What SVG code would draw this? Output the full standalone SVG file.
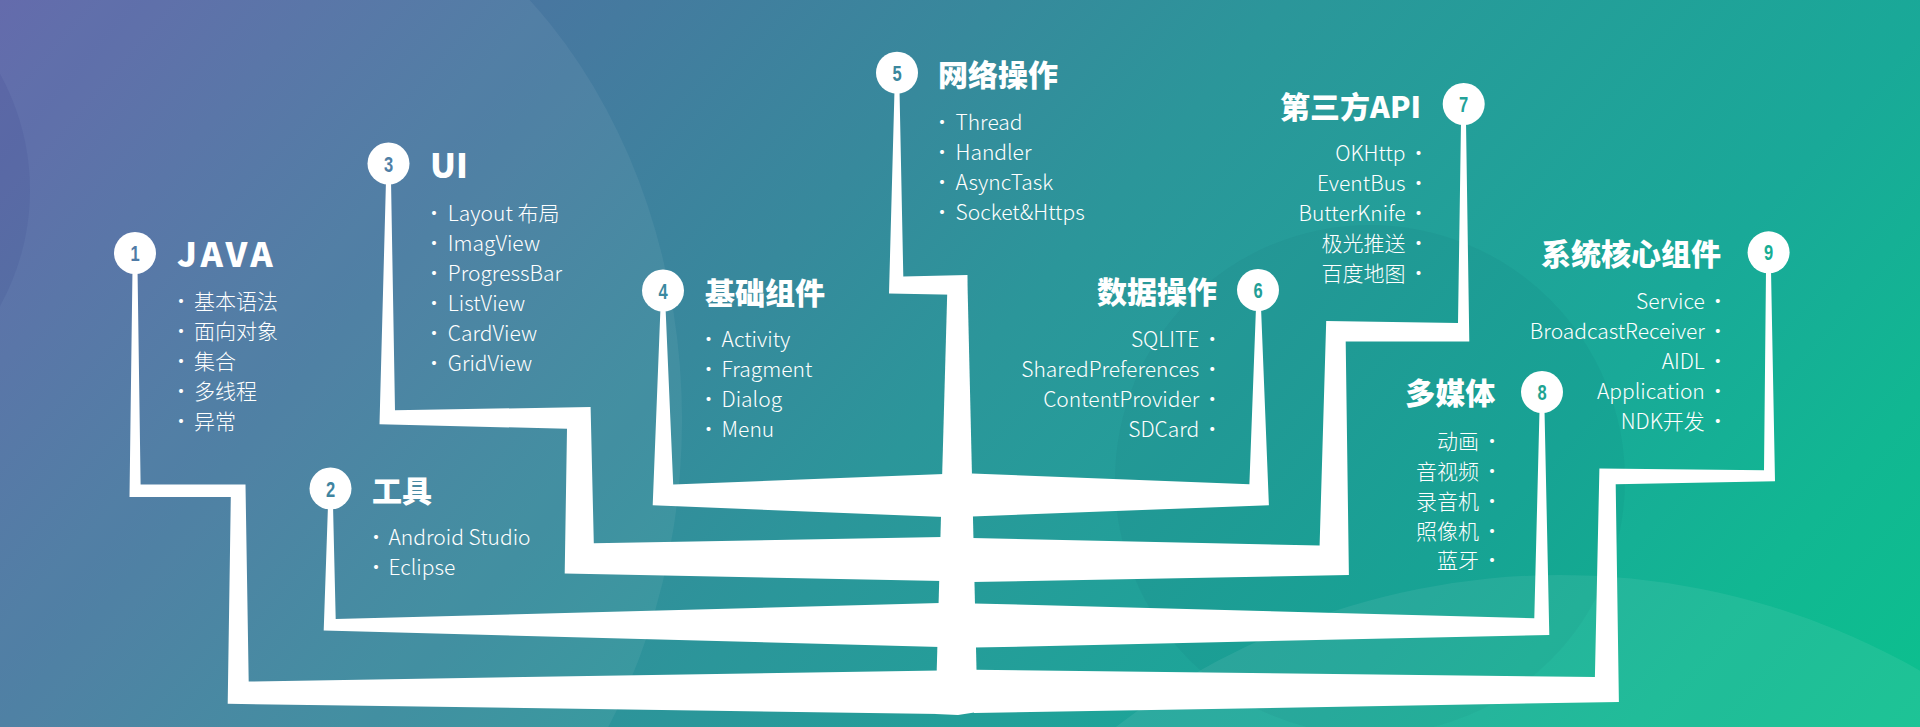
<svg xmlns="http://www.w3.org/2000/svg" width="1920" height="727" viewBox="0 0 1920 727">
<defs>
<linearGradient id="bg" gradientUnits="userSpaceOnUse" x1="0" y1="0" x2="1500" y2="1300">
<stop offset="0" stop-color="#5b62a7"/>
<stop offset="0.24" stop-color="#457a9f"/>
<stop offset="0.38" stop-color="#37899c"/>
<stop offset="0.49" stop-color="#2b969a"/>
<stop offset="0.74" stop-color="#19a998"/>
<stop offset="0.86" stop-color="#11b792"/>
<stop offset="1" stop-color="#0bc28d"/>
</linearGradient>
<style>
.line{fill:#ffffff}
.dot{fill:#ffffff}
.num{font-family:"Liberation Sans Narrow","Liberation Sans",Arial,sans-serif;font-weight:bold;font-size:22px;text-anchor:middle}
.title{font-family:"Noto Sans CJK SC","Noto Sans",sans-serif;font-weight:900;font-size:30px;fill:#ffffff}
.latin{font-size:34px}
.wide{letter-spacing:3.5px}
.item{font-family:"Noto Sans CJK SC","Noto Sans",sans-serif;font-weight:300;font-size:21px;fill:#ffffff}
.r{text-anchor:end}
.b{text-anchor:middle}
</style>
</defs>
<g id="background">
<rect x="0" y="0" width="1920" height="727" fill="url(#bg)"/>
<ellipse cx="232" cy="420" rx="450" ry="560" fill="#ffffff" opacity="0.06"/>
<circle cx="-210" cy="190" r="240" fill="#2a2f80" opacity="0.10"/>
<circle cx="1370" cy="480" r="255" fill="#004050" opacity="0.05"/>
<circle cx="1560" cy="1300" r="725" fill="#ffffff" opacity="0.07"/>
</g>
<g id="connectors">
<polygon class="line" points="947.3,290 967.3,275 977.5,712 958,715 935.5,714"/>
<polygon class="line" points="894.5,90 899.5,90 903.3,276.5 967.3,275 966.9,295 889,293.5"/>
<polygon class="line" points="132.5,268 137.5,268 140.6,484.5 245.5,484.5 248.7,681.5 940,670.5 940,714 227.7,703.8 230.8,497 129.5,497"/>
<polygon class="line" points="328,505 333,505 335.7,619 940,603 940,647 323.7,630.5"/>
<polygon class="line" points="386,180 391,180 395,410.3 590.6,407 593.8,543.3 942,537 942,581 564.7,573.5 567,428.8 379.5,424.2"/>
<polygon class="line" points="660.5,307 665.5,307 673.2,484.5 944,474 944,517 652.7,505.3"/>
<polygon class="line" points="1256,307 1261,307 1268.9,505.2 972,516.5 972,473.5 1249.4,484.2"/>
<polygon class="line" points="1461,122 1466,122 1469.3,341.4 1345.7,341.6 1348.9,575 972,582 972,538 1319.6,545.6 1326.2,321.1 1458,323"/>
<polygon class="line" points="1539.5,410 1544.5,410 1549.3,635 974,647.6 974,603.4 1534.3,618.2"/>
<polygon class="line" points="1766,270 1771,270 1775,481.2 1615.7,484.2 1618.9,702 974,713 974,669.7 1594.9,677 1599.4,468.4 1764,470.2"/>
</g>
<g id="node-1">
<circle class="dot" cx="135" cy="253" r="21"/>
<text class="num" transform="translate(135,261) scale(0.75,1)" fill="#4f7ba6">1</text>
<text class="title latin wide" x="177" y="267">JAVA</text>
<text class="item"><tspan class="b" x="181" y="309">·</tspan><tspan x="194" y="309">基本语法</tspan></text>
<text class="item"><tspan class="b" x="181" y="339">·</tspan><tspan x="194" y="339">面向对象</tspan></text>
<text class="item"><tspan class="b" x="181" y="369">·</tspan><tspan x="194" y="369">集合</tspan></text>
<text class="item"><tspan class="b" x="181" y="399">·</tspan><tspan x="194" y="399">多线程</tspan></text>
<text class="item"><tspan class="b" x="181" y="429">·</tspan><tspan x="194" y="429">异常</tspan></text>
</g>
<g id="node-2">
<circle class="dot" cx="330.5" cy="488.5" r="21"/>
<text class="num" transform="translate(330.5,496.5) scale(0.75,1)" fill="#3f84a0">2</text>
<text class="title" x="372" y="501.5">工具</text>
<text class="item"><tspan class="b" x="376" y="544.5">·</tspan><tspan x="388.5" y="544.5">Android Studio</tspan></text>
<text class="item"><tspan class="b" x="376" y="574.5">·</tspan><tspan x="388.5" y="574.5">Eclipse</tspan></text>
</g>
<g id="node-3">
<circle class="dot" cx="388.5" cy="163.5" r="21"/>
<text class="num" transform="translate(388.5,171.5) scale(0.75,1)" fill="#4f7fa6">3</text>
<text class="title latin" x="430" y="177.5">UI</text>
<text class="item"><tspan class="b" x="434" y="221">·</tspan><tspan x="447.8" y="221">Layout 布局</tspan></text>
<text class="item"><tspan class="b" x="434" y="251">·</tspan><tspan x="447.8" y="251">ImagView</tspan></text>
<text class="item"><tspan class="b" x="434" y="281">·</tspan><tspan x="447.8" y="281">ProgressBar</tspan></text>
<text class="item"><tspan class="b" x="434" y="311">·</tspan><tspan x="447.8" y="311">ListView</tspan></text>
<text class="item"><tspan class="b" x="434" y="341">·</tspan><tspan x="447.8" y="341">CardView</tspan></text>
<text class="item"><tspan class="b" x="434" y="371">·</tspan><tspan x="447.8" y="371">GridView</tspan></text>
</g>
<g id="node-4">
<circle class="dot" cx="663" cy="290.5" r="21"/>
<text class="num" transform="translate(663,298.5) scale(0.75,1)" fill="#3a89a0">4</text>
<text class="title" x="705" y="303.5">基础组件</text>
<text class="item"><tspan class="b" x="708.6" y="347">·</tspan><tspan x="721.6" y="347">Activity</tspan></text>
<text class="item"><tspan class="b" x="708.6" y="377">·</tspan><tspan x="721.6" y="377">Fragment</tspan></text>
<text class="item"><tspan class="b" x="708.6" y="407">·</tspan><tspan x="721.6" y="407">Dialog</tspan></text>
<text class="item"><tspan class="b" x="708.6" y="437">·</tspan><tspan x="721.6" y="437">Menu</tspan></text>
</g>
<g id="node-5">
<circle class="dot" cx="897" cy="72.7" r="21"/>
<text class="num" transform="translate(897,80.7) scale(0.75,1)" fill="#3a879d">5</text>
<text class="title" x="938" y="85.5">网络操作</text>
<text class="item"><tspan class="b" x="942" y="129.5">·</tspan><tspan x="955.5" y="129.5">Thread</tspan></text>
<text class="item"><tspan class="b" x="942" y="159.5">·</tspan><tspan x="955.5" y="159.5">Handler</tspan></text>
<text class="item"><tspan class="b" x="942" y="189.5">·</tspan><tspan x="955.5" y="189.5">AsyncTask</tspan></text>
<text class="item"><tspan class="b" x="942" y="219.5">·</tspan><tspan x="955.5" y="219.5">Socket&amp;Https</tspan></text>
</g>
<g id="node-6">
<circle class="dot" cx="1258" cy="290" r="21"/>
<text class="num" transform="translate(1258,298) scale(0.75,1)" fill="#239e96">6</text>
<text class="title r" x="1217" y="302.5">数据操作</text>
<text class="item"><tspan class="r" x="1199.3" y="347">SQLITE</tspan><tspan class="b" x="1212.3" y="347">·</tspan></text>
<text class="item"><tspan class="r" x="1199.3" y="377">SharedPreferences</tspan><tspan class="b" x="1212.3" y="377">·</tspan></text>
<text class="item"><tspan class="r" x="1199.3" y="407">ContentProvider</tspan><tspan class="b" x="1212.3" y="407">·</tspan></text>
<text class="item"><tspan class="r" x="1199.3" y="437">SDCard</tspan><tspan class="b" x="1212.3" y="437">·</tspan></text>
</g>
<g id="node-7">
<circle class="dot" cx="1463.7" cy="104" r="21"/>
<text class="num" transform="translate(1463.7,112) scale(0.75,1)" fill="#22a298">7</text>
<text class="title r" x="1421" y="118">第三方API</text>
<text class="item"><tspan class="r" x="1405.5" y="161">OKHttp</tspan><tspan class="b" x="1418.5" y="161">·</tspan></text>
<text class="item"><tspan class="r" x="1405.5" y="191">EventBus</tspan><tspan class="b" x="1418.5" y="191">·</tspan></text>
<text class="item"><tspan class="r" x="1405.5" y="221">ButterKnife</tspan><tspan class="b" x="1418.5" y="221">·</tspan></text>
<text class="item"><tspan class="r" x="1405.5" y="251">极光推送</tspan><tspan class="b" x="1418.5" y="251">·</tspan></text>
<text class="item"><tspan class="r" x="1405.5" y="281">百度地图</tspan><tspan class="b" x="1418.5" y="281">·</tspan></text>
</g>
<g id="node-8">
<circle class="dot" cx="1542" cy="392" r="21"/>
<text class="num" transform="translate(1542,400) scale(0.75,1)" fill="#1fa492">8</text>
<text class="title r" x="1495.3" y="404">多媒体</text>
<text class="item"><tspan class="r" x="1479" y="449">动画</tspan><tspan class="b" x="1492" y="449">·</tspan></text>
<text class="item"><tspan class="r" x="1479" y="479">音视频</tspan><tspan class="b" x="1492" y="479">·</tspan></text>
<text class="item"><tspan class="r" x="1479" y="508.5">录音机</tspan><tspan class="b" x="1492" y="508.5">·</tspan></text>
<text class="item"><tspan class="r" x="1479" y="538.5">照像机</tspan><tspan class="b" x="1492" y="538.5">·</tspan></text>
<text class="item"><tspan class="r" x="1479" y="568">蓝牙</tspan><tspan class="b" x="1492" y="568">·</tspan></text>
</g>
<g id="node-9">
<circle class="dot" cx="1768.6" cy="252.3" r="21"/>
<text class="num" transform="translate(1768.6,260.3) scale(0.75,1)" fill="#17ae94">9</text>
<text class="title r" x="1721" y="265">系统核心组件</text>
<text class="item"><tspan class="r" x="1704.8" y="309">Service</tspan><tspan class="b" x="1717.8" y="309">·</tspan></text>
<text class="item"><tspan class="r" x="1704.8" y="339">BroadcastReceiver</tspan><tspan class="b" x="1717.8" y="339">·</tspan></text>
<text class="item"><tspan class="r" x="1704.8" y="369">AIDL</tspan><tspan class="b" x="1717.8" y="369">·</tspan></text>
<text class="item"><tspan class="r" x="1704.8" y="399">Application</tspan><tspan class="b" x="1717.8" y="399">·</tspan></text>
<text class="item"><tspan class="r" x="1704.8" y="429">NDK开发</tspan><tspan class="b" x="1717.8" y="429">·</tspan></text>
</g>
</svg>
